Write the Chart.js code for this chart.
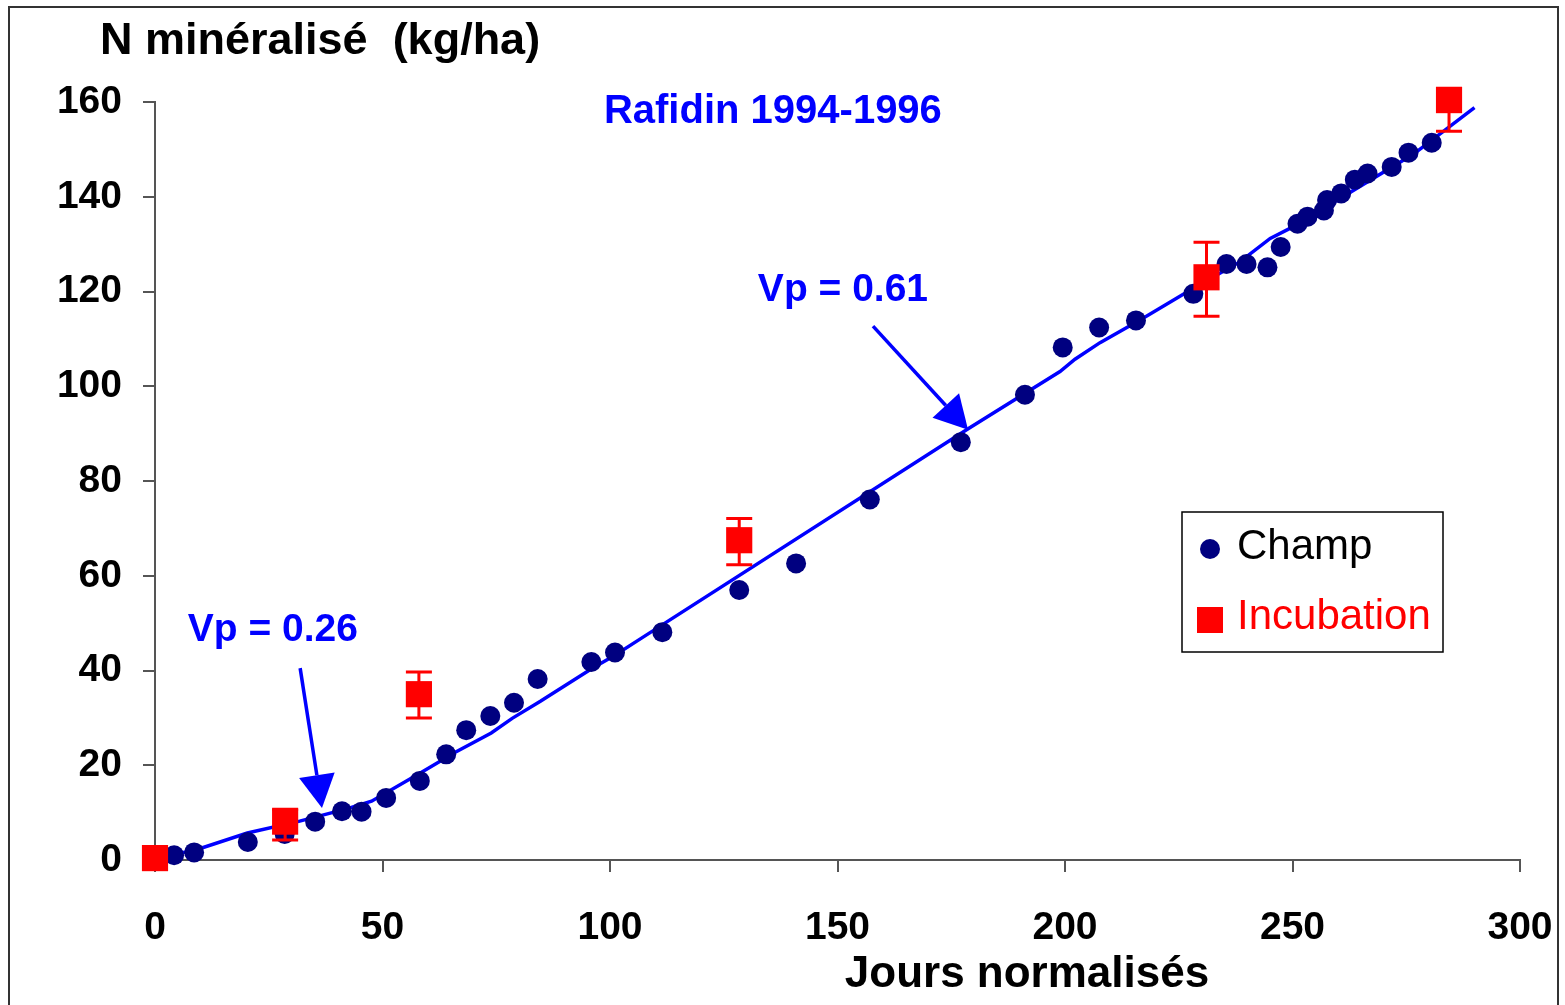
<!DOCTYPE html>
<html>
<head>
<meta charset="utf-8">
<script src="https://cdn.jsdelivr.net/npm/chart.js@4.4.0/dist/chart.umd.min.js"></script>
<style>
body { margin:0; background:#fff; }
#wrap { width:1565px; height:1005px; }
</style>
</head>
<body>
<div id="wrap"><canvas id="nChart" width="1565" height="1005"></canvas></div>
<script>
var xTicks = [0, 50, 100, 150, 200, 250, 300];
var yTicks = [0, 20, 40, 60, 80, 100, 120, 140, 160];

// field measurements
var champX = [4.2, 8.6, 20.4, 28.5, 35.2, 41.1, 45.4, 50.8, 58.2, 64.0, 68.4, 73.7, 78.9, 84.1, 95.9, 101.1, 111.5,
  128.4, 140.9, 157.1, 177.1, 191.2, 199.5, 207.5, 215.6, 228.2, 235.5, 239.9, 244.5, 247.4, 251.1, 253.3,
  256.9, 257.6, 260.7, 263.7, 266.5, 271.8, 275.5, 280.6];
var champY = [1.0, 1.6, 3.8, 5.5, 8.1, 10.3, 10.2, 13.1, 16.7, 22.3, 27.4, 30.4, 33.2, 38.2, 41.8, 43.8, 48.1,
  57.0, 62.6, 76.1, 88.2, 98.2, 108.2, 112.4, 113.9, 119.5, 125.8, 125.8, 125.1, 129.4, 134.3, 135.8,
  137.1, 139.3, 140.7, 143.6, 144.9, 146.3, 149.3, 151.4];

// incubation results with error bars
var incubX = [0, 28.6, 58.0, 128.4, 231.1, 284.4];
var incubY = [0.4, 8.1, 35.0, 67.5, 123.0, 160.4];
var incubErrUp = [0, 2.6, 4.7, 4.6, 7.4, 2.5];
var incubErrDown = [0, 3.9, 5.0, 5.2, 8.2, 6.6];

// simulated curve
var simX = [0, 8.6, 20.3, 31.8, 42.1, 47.6, 58.4, 66.1, 73.9, 78.5, 84.7, 96.3, 100.9, 105.9, 178.8,
  198.9, 202.2, 207.7, 216.5, 226.0, 238.5, 245.1, 250.2, 276.6, 290.0];
var simY = [0.5, 2.0, 5.7, 8.2, 10.8, 12.4, 18.4, 22.8, 26.8, 29.9, 33.5, 40.6, 43.1, 46.2, 91.1,
  103.1, 105.7, 109.2, 114.0, 119.4, 126.3, 131.2, 133.7, 149.0, 158.8];

var seriesNames = ['Champ', 'Incubation'];
var yTitle = 'N minéralisé  (kg/ha)';
var xTitle = 'Jours normalisés';
var siteLabel = 'Rafidin 1994-1996';
var vpLabels = ['Vp = 0.26', 'Vp = 0.61'];

// where the notes sit, in axis units
var notes = {
  site: [135.8, 157.9],
  vpText: [[25.9, 48.5], [151.2, 120.3]],
  vpFrom: [[31.9, 40.5], [157.8, 112.7]],
  vpTo: [[36.7, 11.0], [178.7, 90.8]]
};

function pts(xs, ys) {
  var out = [];
  for (var i = 0; i < xs.length; i++) out.push({ x: xs[i], y: ys[i] });
  return out;
}

var FONT = '"Liberation Sans", Arial, sans-serif';
var BLUE = '#0000FF', NAVY = '#000080', RED = '#FF0000';

function arrow(ctx, x1, y1, x2, y2, headLen, headW) {
  var a = Math.atan2(y2 - y1, x2 - x1);
  var bx = x2 - headLen * Math.cos(a), by = y2 - headLen * Math.sin(a);
  ctx.beginPath(); ctx.moveTo(x1, y1); ctx.lineTo(bx, by); ctx.stroke();
  ctx.beginPath();
  ctx.moveTo(x2, y2);
  ctx.lineTo(bx + headW / 2 * Math.sin(a), by - headW / 2 * Math.cos(a));
  ctx.lineTo(bx - headW / 2 * Math.sin(a), by + headW / 2 * Math.cos(a));
  ctx.closePath(); ctx.fill();
}

var extras = {
  id: 'extras',
  afterDatasetsDraw: function(chart) {
    var ctx = chart.ctx, xs = chart.scales.x, ys = chart.scales.y;
    ctx.save();
    ctx.strokeStyle = RED; ctx.lineWidth = 3;
    for (var i = 0; i < incubX.length; i++) {
      if (!incubErrUp[i] && !incubErrDown[i]) continue;
      var px = xs.getPixelForValue(incubX[i]);
      var top = ys.getPixelForValue(incubY[i] + incubErrUp[i]);
      var bot = ys.getPixelForValue(incubY[i] - incubErrDown[i]);
      ctx.beginPath();
      ctx.moveTo(px, top); ctx.lineTo(px, bot);
      ctx.moveTo(px - 13, top); ctx.lineTo(px + 13, top);
      ctx.moveTo(px - 13, bot); ctx.lineTo(px + 13, bot);
      ctx.stroke();
    }
    ctx.restore();
  },
  afterDraw: function(chart) {
    var ctx = chart.ctx, xs = chart.scales.x, ys = chart.scales.y;
    ctx.save();

    // axis titles
    ctx.fillStyle = '#000';
    ctx.textBaseline = 'middle';
    ctx.font = 'bold 45px ' + FONT;
    ctx.textAlign = 'left';
    ctx.fillText(yTitle, 100, 42);
    ctx.font = 'bold 44px ' + FONT;
    ctx.textAlign = 'center';
    ctx.fillText(xTitle, 1027, 975);

    // notes and arrows
    ctx.fillStyle = BLUE; ctx.strokeStyle = BLUE; ctx.lineWidth = 3.5;
    ctx.font = 'bold 40px ' + FONT;
    ctx.fillText(siteLabel, xs.getPixelForValue(notes.site[0]), ys.getPixelForValue(notes.site[1]));
    ctx.font = 'bold 39px ' + FONT;
    for (var i = 0; i < vpLabels.length; i++) {
      ctx.fillText(vpLabels[i], xs.getPixelForValue(notes.vpText[i][0]), ys.getPixelForValue(notes.vpText[i][1]));
      arrow(ctx,
        xs.getPixelForValue(notes.vpFrom[i][0]), ys.getPixelForValue(notes.vpFrom[i][1]),
        xs.getPixelForValue(notes.vpTo[i][0]), ys.getPixelForValue(notes.vpTo[i][1]), 33, 36);
    }

    // legend
    ctx.strokeStyle = '#000'; ctx.lineWidth = 1.5;
    ctx.strokeRect(1182, 512, 261, 140);
    ctx.fillStyle = NAVY;
    ctx.beginPath(); ctx.arc(1210, 549, 10, 0, Math.PI * 2); ctx.fill();
    ctx.fillStyle = RED;
    ctx.fillRect(1197, 607, 26, 26);
    ctx.font = '42px ' + FONT;
    ctx.textAlign = 'left';
    ctx.fillStyle = '#000';
    ctx.fillText(seriesNames[0], 1237, 547);
    ctx.fillStyle = RED;
    ctx.fillText(seriesNames[1], 1237, 617);

    // outer frame
    ctx.strokeStyle = '#333'; ctx.lineWidth = 2;
    ctx.strokeRect(9, 7, 1549, 1010);
    ctx.restore();
  }
};

function fixedTicks(list) {
  return function(scale) { scale.ticks = list.map(function(v) { return { value: v }; }); };
}

new Chart(document.getElementById('nChart').getContext('2d'), {
  type: 'scatter',
  data: {
    datasets: [
      { label: seriesNames[1], data: pts(incubX, incubY), order: 1, clip: false,
        pointStyle: 'rect', pointRadius: 18.5, backgroundColor: RED, borderColor: RED, borderWidth: 0 },
      { label: seriesNames[0], data: pts(champX, champY), order: 2, clip: false,
        pointStyle: 'circle', pointRadius: 10, backgroundColor: NAVY, borderColor: NAVY, borderWidth: 0 },
      { label: 'simulation', data: pts(simX, simY), order: 3, clip: false, showLine: true,
        pointRadius: 0, borderColor: BLUE, borderWidth: 3.5, tension: 0 }
    ]
  },
  options: {
    responsive: false,
    animation: false,
    events: [],
    layout: { padding: { top: 102, right: 45, left: 0, bottom: 0 } },
    plugins: { legend: { display: false }, tooltip: { enabled: false } },
    scales: {
      x: {
        type: 'linear', min: 0, max: 300,
        afterBuildTicks: fixedTicks(xTicks),
        afterFit: function(s) { s.height = 145; s.paddingLeft = 0; s.paddingRight = 0; },
        grid: { drawOnChartArea: false, tickLength: 12, color: '#555', lineWidth: 2 },
        border: { color: '#555', width: 2 },
        ticks: { color: '#000', padding: 33, maxRotation: 0, font: { family: FONT, size: 39, weight: 'bold' } }
      },
      y: {
        type: 'linear', min: 0, max: 160,
        afterBuildTicks: fixedTicks(yTicks),
        afterFit: function(s) { s.width = 155; s.paddingTop = 0; s.paddingBottom = 0; },
        grid: { drawOnChartArea: false, tickLength: 12, color: '#555', lineWidth: 2 },
        border: { color: '#555', width: 2 },
        ticks: { color: '#000', padding: 21, font: { family: FONT, size: 39, weight: 'bold' } }
      }
    }
  },
  plugins: [extras]
});
</script>
</body>
</html>
